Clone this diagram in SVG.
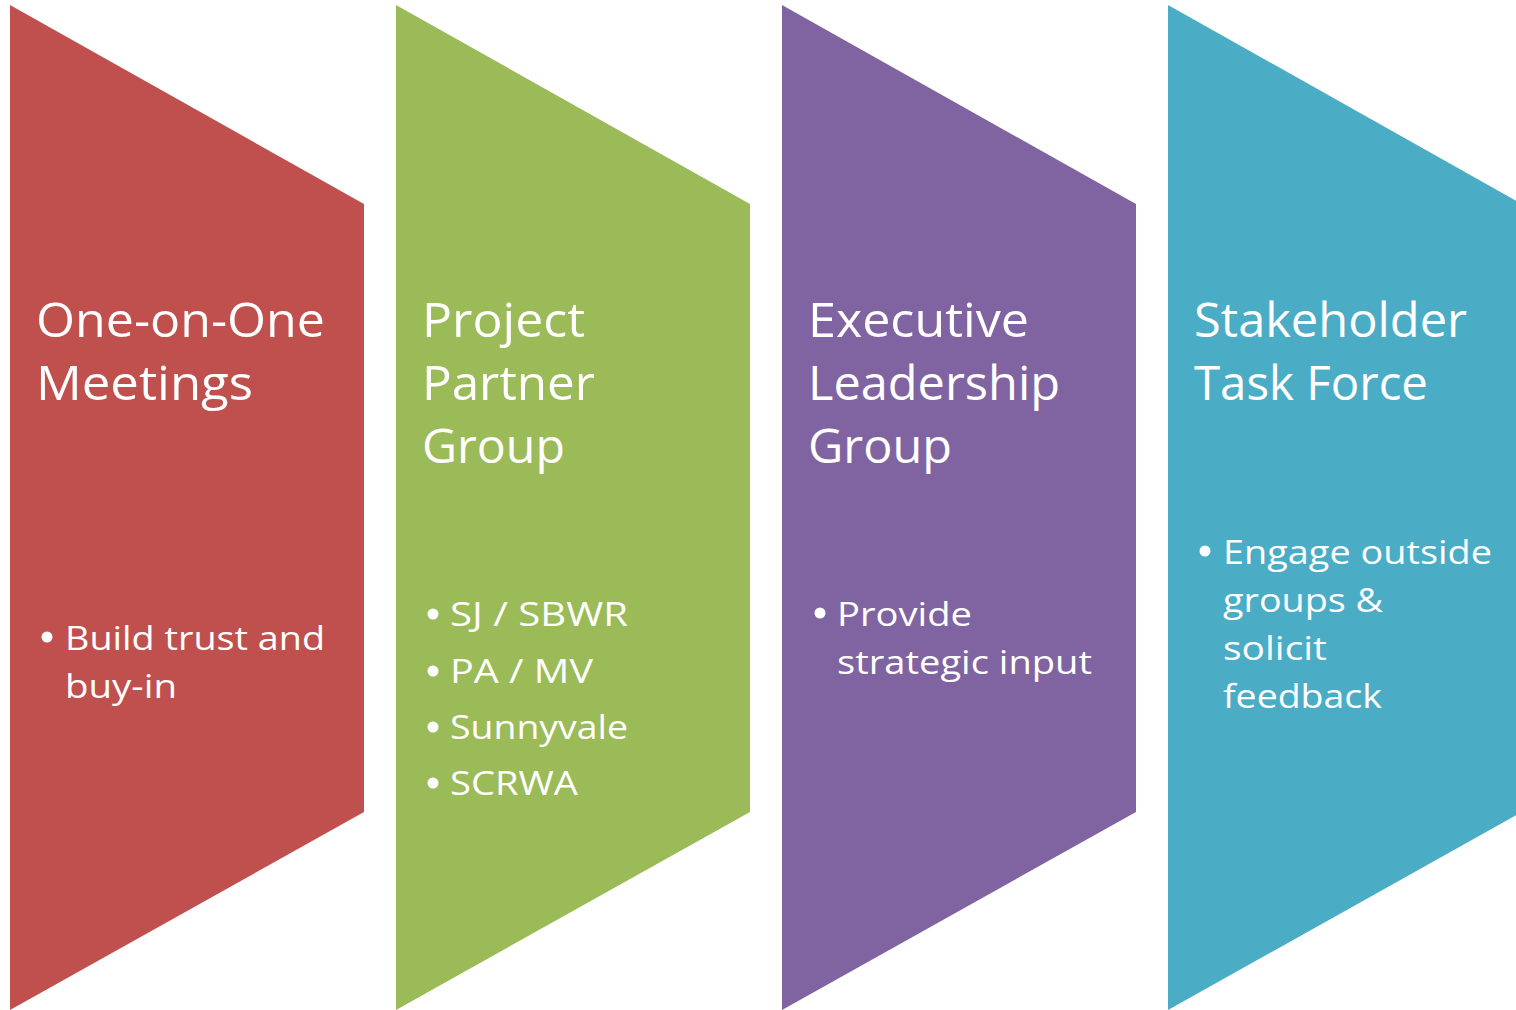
<svg xmlns="http://www.w3.org/2000/svg" width="1516" height="1010" viewBox="0 0 1516 1010">
<style>
.t{font-family:"Open Sans","Noto Sans","Liberation Sans",sans-serif;fill:#fff;font-size:47px}
.b{font-family:"Open Sans","Noto Sans","Liberation Sans",sans-serif;fill:#fff;font-size:32px}
.d{fill:#fff}
</style>
<rect width="1516" height="1010" fill="#fff"/>
<g id="col1">
<polygon points="10,5 364,204 364,812 10,1010" fill="#C0504D"/>
<text class="t" x="36" y="337" textLength="289" lengthAdjust="spacingAndGlyphs">One-on-One</text>
<text class="t" x="36" y="400" textLength="217" lengthAdjust="spacingAndGlyphs">Meetings</text>
<circle class="d" cx="47" cy="637" r="5.5"/>
<text class="b" x="65" y="650" textLength="260" lengthAdjust="spacingAndGlyphs">Build trust and</text>
<text class="b" x="65" y="698" textLength="112" lengthAdjust="spacingAndGlyphs">buy-in</text>
</g>
<g id="col2">
<polygon points="396,5 750,204 750,812 396,1010" fill="#9BBB59"/>
<text class="t" x="422" y="337" textLength="163" lengthAdjust="spacingAndGlyphs">Project</text>
<text class="t" x="422" y="400" textLength="173" lengthAdjust="spacingAndGlyphs">Partner</text>
<text class="t" x="422" y="463" textLength="143" lengthAdjust="spacingAndGlyphs">Group</text>
<circle class="d" cx="433" cy="614" r="5.5"/>
<text class="b" x="450" y="626" textLength="178" lengthAdjust="spacingAndGlyphs">SJ / SBWR</text>
<circle class="d" cx="433" cy="671" r="5.5"/>
<text class="b" x="450" y="683" textLength="143" lengthAdjust="spacingAndGlyphs">PA / MV</text>
<circle class="d" cx="433" cy="727" r="5.5"/>
<text class="b" x="450" y="739" textLength="178" lengthAdjust="spacingAndGlyphs">Sunnyvale</text>
<circle class="d" cx="433" cy="783" r="5.5"/>
<text class="b" x="450" y="795" textLength="128" lengthAdjust="spacingAndGlyphs">SCRWA</text>
</g>
<g id="col3">
<polygon points="782,5 1136,204 1136,812 782,1010" fill="#8064A2"/>
<text class="t" x="808" y="337" textLength="221" lengthAdjust="spacingAndGlyphs">Executive</text>
<text class="t" x="808" y="400" textLength="252" lengthAdjust="spacingAndGlyphs">Leadership</text>
<text class="t" x="808" y="463" textLength="144" lengthAdjust="spacingAndGlyphs">Group</text>
<circle class="d" cx="820" cy="613" r="5.5"/>
<text class="b" x="837" y="626" textLength="135" lengthAdjust="spacingAndGlyphs">Provide</text>
<text class="b" x="837" y="674" textLength="255" lengthAdjust="spacingAndGlyphs">strategic input</text>
</g>
<g id="col4">
<polygon points="1168,5 1522,204 1522,812 1168,1010" fill="#4BACC6"/>
<text class="t" x="1194" y="337" textLength="273" lengthAdjust="spacingAndGlyphs">Stakeholder</text>
<text class="t" x="1194" y="400" textLength="234" lengthAdjust="spacingAndGlyphs">Task Force</text>
<circle class="d" cx="1205" cy="551" r="5.5"/>
<text class="b" x="1223" y="564" textLength="269" lengthAdjust="spacingAndGlyphs">Engage outside</text>
<text class="b" x="1223" y="612" textLength="160" lengthAdjust="spacingAndGlyphs">groups &amp;</text>
<text class="b" x="1223" y="660" textLength="104" lengthAdjust="spacingAndGlyphs">solicit</text>
<text class="b" x="1223" y="708" textLength="159" lengthAdjust="spacingAndGlyphs">feedback</text>
</g>
<g id="connectors"/>
</svg>
